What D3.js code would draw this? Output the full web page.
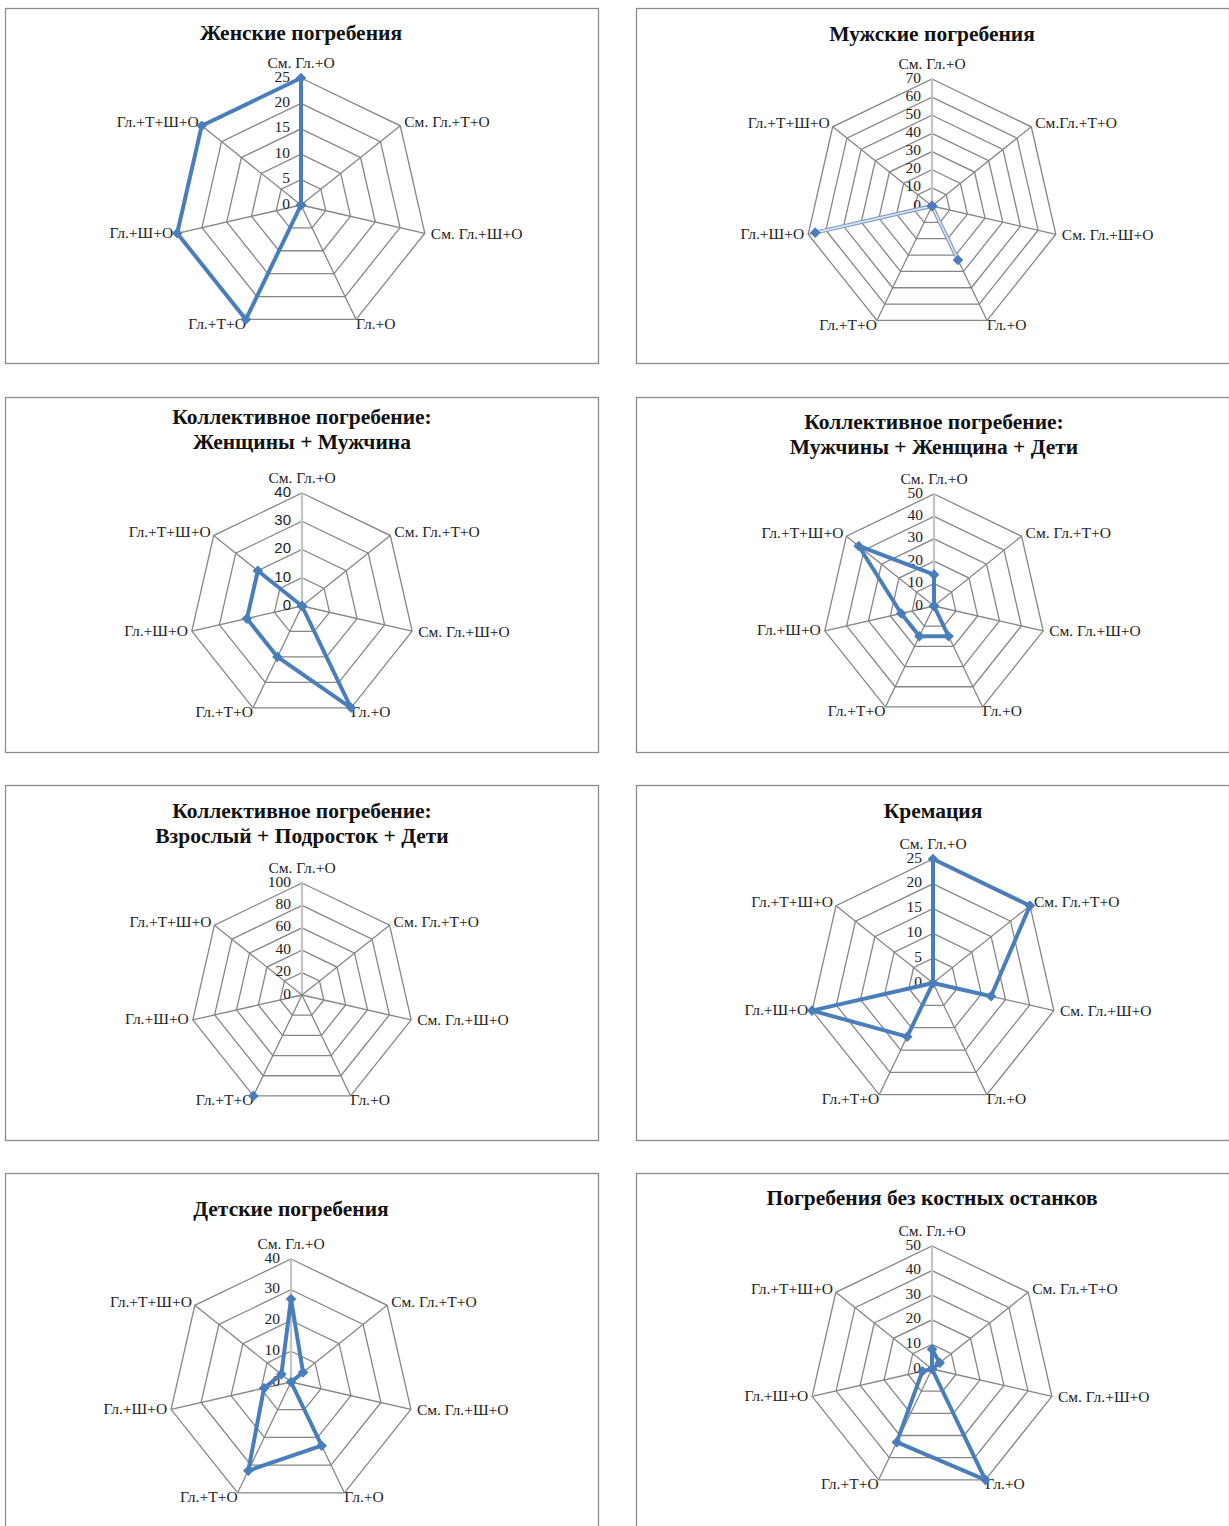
<!DOCTYPE html>
<html>
<head>
<meta charset="utf-8">
<script src="https://cdn.jsdelivr.net/npm/d3@7"></script>
<style>
  html, body { margin: 0; padding: 0; background: #fff; }
  svg { display: block; }
</style>
</head>
<body>
<svg id="chart" width="1229" height="1526"></svg>
<script>
// ---------- DATA ----------
const categories = ["См. Гл.+О", "См. Гл.+Т+О", "См. Гл.+Ш+О", "Гл.+О", "Гл.+Т+О", "Гл.+Ш+О", "Гл.+Т+Ш+О"];
const categoriesMale = ["См. Гл.+О", "См.Гл.+Т+О", "См. Гл.+Ш+О", "Гл.+О", "Гл.+Т+О", "Гл.+Ш+О", "Гл.+Т+Ш+О"];

const femaleValues            = [25, 0, 0, 0, 25, 25, 25];
const maleValues              = [0, 0, 0, 33, 0, 66, 0];
const womenManValues          = [0, 0, 0, 40, 20, 20, 20];
const menWomanChildrenValues  = [14, 0, 0, 15, 15, 15, 43];
const adultTeenChildrenValues = [null, null, null, null, 100, null, null];
const cremationValues         = [25, 25, 12, 0, 12, 25, 0];
const childValues             = [27, 5, 0, 23, 32, 9, 4];
const noBonesValues           = [8, 4, 0, 50, 33, 4, 0];

const ticksFemale    = [0, 5, 10, 15, 20, 25];
const ticksMale      = [0, 10, 20, 30, 40, 50, 60, 70];
const ticks40        = [0, 10, 20, 30, 40];
const ticks50        = [0, 10, 20, 30, 40, 50];
const ticks100       = [0, 20, 40, 60, 80, 100];
const ticks25        = [0, 5, 10, 15, 20, 25];

const titles = [
  ["Женские погребения"],
  ["Мужские погребения"],
  ["Коллективное погребение:", "Женщины + Мужчина"],
  ["Коллективное погребение:", "Мужчины + Женщина + Дети"],
  ["Коллективное погребение:", "Взрослый + Подросток + Дети"],
  ["Кремация"],
  ["Детские погребения"],
  ["Погребения без костных останков"]
];

// ---------- LAYOUT ----------
const panels = [
  { x: 5,   y: 8,    cx: 296, cy: 197, R: 127, titleY: [27],       cats: categories,     values: femaleValues,            ticks: ticksFemale, style: "solid" },
  { x: 636, y: 8,    cx: 296, cy: 198, R: 127, titleY: [28],       cats: categoriesMale, values: maleValues,              ticks: ticksMale,   style: "double" },
  { x: 5,   y: 397,  cx: 297, cy: 209, R: 113, titleY: [22, 47],   cats: categories,     values: womenManValues,          ticks: ticks40,     style: "solid", sansTicks: true },
  { x: 636, y: 397,  cx: 298, cy: 209, R: 112, titleY: [27, 52],   cats: categories,     values: menWomanChildrenValues,  ticks: ticks50,     style: "solid" },
  { x: 5,   y: 785,  cx: 297, cy: 210, R: 112, titleY: [28, 53],   cats: categories,     values: adultTeenChildrenValues, ticks: ticks100,    style: "solid" },
  { x: 636, y: 785,  cx: 297, cy: 198, R: 124, titleY: [28],       cats: categories,     values: cremationValues,         ticks: ticks25,     style: "solid" },
  { x: 5,   y: 1173, cx: 286, cy: 209, R: 123, titleY: [38],       cats: categories,     values: childValues,             ticks: ticks40,     style: "solid" },
  { x: 636, y: 1173, cx: 296, cy: 196, R: 123, titleY: [27],       cats: categories,     values: noBonesValues,           ticks: ticks50,     style: "solid" }
];
const boxW = 593, boxH = 355;

const serif = "'Liberation Serif', 'Times New Roman', serif";
const sans = "'Liberation Sans', Arial, sans-serif";
const lineColor = "#4a7ebb";
const gridColor = "#868686";

const svg = d3.select("#chart");
svg.append("rect").attr("width", 1229).attr("height", 1526).attr("fill", "#fff");

const labelPlacement = [
  { anchor: "middle", dx: 0,  dy: -14 },
  { anchor: "start",  dx: 4,  dy: -2 },
  { anchor: "start",  dx: 6,  dy: 2 },
  { anchor: "start",  dx: 0,  dy: 6 },
  { anchor: "end",    dx: 0,  dy: 6 },
  { anchor: "end",    dx: -4, dy: 1 },
  { anchor: "end",    dx: -3, dy: -2 }
];

panels.forEach((p, pi) => {
  const g = svg.append("g").attr("transform", `translate(${p.x},${p.y})`);
  g.append("rect")
    .attr("x", 0.5).attr("y", 0.5).attr("width", boxW).attr("height", boxH)
    .attr("fill", "#fff").attr("stroke", "#8c8c8c").attr("stroke-width", 1.3);

  // title
  titles[pi].forEach((t, k) => {
    g.append("text")
      .attr("x", p.cx + 0).attr("y", p.titleY[k])
      .attr("text-anchor", "middle").attr("dominant-baseline", "middle")
      .attr("font-family", serif).attr("font-weight", "bold").attr("font-size", 21.5)
      .attr("fill", "#111").text(t);
  });

  const n = p.cats.length;
  const maxV = p.ticks[p.ticks.length - 1];
  const r = d3.scaleLinear().domain([0, maxV]).range([0, p.R]);
  const angle = d3.scaleLinear().domain([0, n]).range([0, 2 * Math.PI]);
  const idx = d3.range(n);

  const cg = g.append("g").attr("transform", `translate(${p.cx},${p.cy})`);

  // rings
  const ring = d3.lineRadial().angle((d, i) => angle(i)).radius(d => r(d)).curve(d3.curveLinearClosed);
  p.ticks.filter(t => t > 0).forEach(t => {
    cg.append("path").attr("d", ring(idx.map(() => t)))
      .attr("fill", "none").attr("stroke", gridColor).attr("stroke-width", 1.3);
  });
  // spokes
  idx.forEach(i => {
    const a = angle(i);
    const x2 = r(maxV) * Math.sin(a), y2 = -r(maxV) * Math.cos(a);
    cg.append("line").attr("x1", 0).attr("y1", 0).attr("x2", x2).attr("y2", y2)
      .attr("stroke", i === 0 ? "#c4c4c4" : gridColor)
      .attr("stroke-width", i === 0 ? 2.2 : 1.3);
  });

  // tick labels
  p.ticks.forEach(t => {
    cg.append("text")
      .attr("x", -11).attr("y", -r(t))
      .attr("text-anchor", "end").attr("dominant-baseline", "middle")
      .attr("font-family", p.sansTicks ? sans : serif)
      .attr("font-size", p.sansTicks ? 15 : 15.5)
      .attr("fill", "#222").text(t);
  });

  // category labels
  p.cats.forEach((c, i) => {
    const a = angle(i);
    const vx = r(maxV) * Math.sin(a), vy = -r(maxV) * Math.cos(a);
    const lp = labelPlacement[i];
    cg.append("text")
      .attr("x", vx + lp.dx).attr("y", vy + lp.dy)
      .attr("text-anchor", lp.anchor).attr("dominant-baseline", "middle")
      .attr("font-family", serif).attr("font-size", 15.5)
      .attr("fill", "#222").text(c);
  });

  // data line
  const pts = p.values.map((v, i) => ({ v, i }));
  const defined = pts.filter(d => d.v != null);
  const dataLine = d3.lineRadial()
    .defined(d => d.v != null)
    .angle(d => angle(d.i)).radius(d => r(d.v))
    .curve(d3.curveLinearClosed);
  if (defined.length > 1) {
    if (p.style === "double") {
      cg.append("path").attr("d", dataLine(pts))
        .attr("fill", "none").attr("stroke", "#7f9cc2").attr("stroke-width", 4)
        .attr("stroke-linejoin", "round");
      cg.append("path").attr("d", dataLine(pts))
        .attr("fill", "none").attr("stroke", "#dbe6f3").attr("stroke-width", 1.6)
        .attr("stroke-linejoin", "round");
    } else {
      cg.append("path").attr("d", dataLine(pts))
        .attr("fill", "none").attr("stroke", lineColor).attr("stroke-width", 4)
        .attr("stroke-linejoin", "round");
    }
  }
  // markers
  const sym = d3.symbol().type(d3.symbolDiamond2).size(72);
  cg.selectAll("path.mk").data(defined).enter().append("path")
    .attr("class", "mk")
    .attr("d", sym)
    .attr("transform", d => `translate(${r(d.v) * Math.sin(angle(d.i))},${-r(d.v) * Math.cos(angle(d.i))})`)
    .attr("fill", lineColor);
});
</script>
</body>
</html>
